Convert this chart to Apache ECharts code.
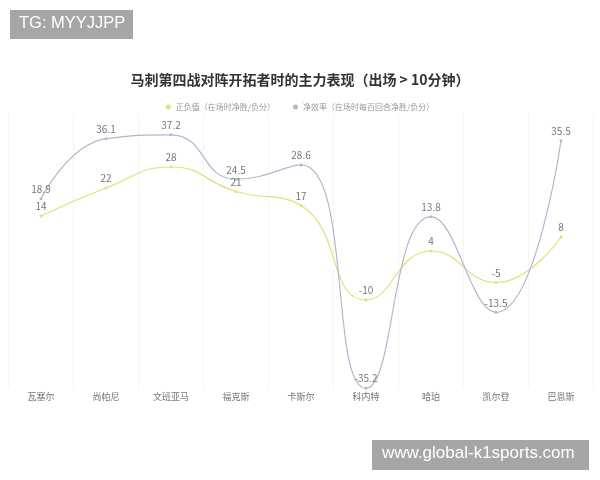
<!DOCTYPE html>
<html><head><meta charset="utf-8">
<script src="https://cdn.jsdelivr.net/npm/echarts@6/dist/echarts.min.js"></script>
<style>html,body{margin:0;padding:0;background:#fff}#c{width:600px;height:480px}</style>
</head><body><div id="c"></div>
<script>
var categories = ['瓦塞尔','尚帕尼','文班亚马','福克斯','卡斯尔','科内特','哈珀','凯尔登','巴恩斯'];
var plusMinus = [14, 22, 28, 21, 17, -10, 4, -5, 8];
var netRating = [18.9, 36.1, 37.2, 24.5, 28.6, -35.2, 13.8, -13.5, 35.5];
var seriesNames = ['正负值（在场时净胜/负分）', '净效率（在场时每百回合净胜/负分）'];
var titleText = '马刺第四战对阵开拓者时的主力表现（出场 > 10分钟）';

var chart = echarts.init(document.getElementById('c'));
var lbl = {show:true, position:'top', distance:3, color:'#777', fontSize:10, fontFamily:'Noto Sans CJK SC'};
chart.setOption({
  backgroundColor:'#fff',
  animation:false,
  title:{text:titleText, left:'center', top:68,
    textStyle:{fontSize:14, fontWeight:'bold', color:'#333', fontFamily:'Noto Sans CJK SC'}},
  legend:{top:98, left:'center', itemWidth:5, itemHeight:5, itemGap:18, icon:'circle',
    textStyle:{fontSize:8, color:'#999', fontFamily:'Noto Sans CJK SC'}, data:seriesNames},
  grid:{left:8.5, right:6.5, top:114.5, bottom:91.8},
  xAxis:{type:'category', data:categories, boundaryGap:true,
    axisLine:{show:false}, axisTick:{show:false},
    axisLabel:{color:'#777', fontSize:9, margin:4, fontFamily:'Noto Sans CJK SC'},
    splitLine:{show:true, lineStyle:{color:'#f4f4f4', width:1}}},
  yAxis:{type:'value', min:-35.2, max:43, show:false, splitLine:{show:false}},
  series:[
    {name:seriesNames[0], type:'line', smooth:true, data:plusMinus,
     symbol:'circle', symbolSize:3, itemStyle:{color:'#e6de78'},
     lineStyle:{color:'#e6de78', width:1.2}, label:lbl},
    {name:seriesNames[1], type:'line', smooth:true, data:netRating,
     symbol:'circle', symbolSize:3, itemStyle:{color:'#bab3cf'},
     lineStyle:{color:'#bab3cf', width:1.2}, label:lbl}
  ],
  graphic:[
    {type:'rect', left:10, top:10, shape:{width:123, height:29}, style:{fill:'#a6a6a6'}},
    {type:'text', left:19, top:15, style:{text:'TG: MYYJJPP', fill:'#fff', font:'16.5px "Liberation Sans", Arial'}},
    {type:'rect', left:372, top:440, shape:{width:217, height:30}, style:{fill:'#a6a6a6'}},
    {type:'text', left:382, top:445, style:{text:'www.global-k1sports.com', fill:'#fff', font:'17px "Liberation Sans", Arial'}}
  ]
});
</script></body></html>
